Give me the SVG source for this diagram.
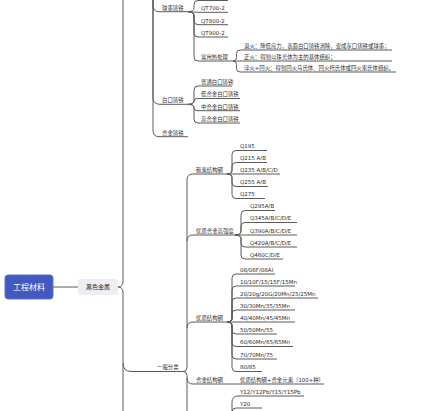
<svg xmlns="http://www.w3.org/2000/svg" width="442" height="411" viewBox="0 0 442 411">
<style>
.c{fill:none;stroke:#5a5a5a;stroke-width:1}
.u{fill:none;stroke:#5a5a5a;stroke-width:1}
.t{font-family:"DejaVu Sans","Noto Sans CJK SC",sans-serif;font-size:5.4px;fill:#2a2a2a}
.l{font-family:"DejaVu Sans","Noto Sans CJK SC",sans-serif;font-size:5.5px;fill:#2a2a2a}
</style>
<rect width="442" height="411" fill="#fff"/>
<g id="connectors">
<path class="c" d="M53 287H78"/>
<path class="c" d="M118 287Q123 287 123 281V0"/>
<path class="c" d="M118 287Q123 287 123 293V411"/>
<path class="c" d="M123 363Q123 371.5 131 371.5H152"/>
<path class="c" d="M153 0V5Q153 11.7 159 11.7"/>
<path class="c" d="M153 0V97.5Q153 104.3 160 104.3"/>
<path class="c" d="M153 0V130Q153 136.7 159 136.7"/>
<path class="c" d="M188 11.7Q194 11.7 194 7.7V4.5Q194 0.5 198 0.5H228"/>
<path class="c" d="M188 11.7C192 11.7 194 12.3 199 12.3"/>
<path class="c" d="M188 11.7Q194 11.7 194 15.7V20.7Q194 24.7 198 24.7H199"/>
<path class="c" d="M188 11.7Q194 11.7 194 15.7V33Q194 37 198 37H199"/>
<path class="c" d="M188 11.7Q194 11.7 194 15.7V57Q194 61 198 61H199"/>
<path class="c" d="M233 61Q236.5 61 236.5 57.5V53.5Q236.5 50 240 50"/>
<path class="c" d="M233 61H240"/>
<path class="c" d="M233 61Q236.5 61 236.5 64.5V68.5Q236.5 72 240 72"/>
<path class="c" d="M188 104.3Q194 104.3 194 100.3V90Q194 86 198 86H199"/>
<path class="c" d="M188 104.3Q194 104.3 194 101.4Q194 98.5 197 98.5H199"/>
<path class="c" d="M188 104.3Q194 104.3 194 107.5Q194 110.7 197 110.7H199"/>
<path class="c" d="M188 104.3Q194 104.3 194 108.3V119Q194 123 198 123H199"/>
<path class="c" d="M183 371.5Q187 371.5 187 367.5V180Q187 174 193 174"/>
<path class="c" d="M187 241Q187 235 193 235"/>
<path class="c" d="M187 328Q187 322 193 322"/>
<path class="c" d="M183 371.5Q187 371.5 187 375.5V411"/>
<path class="c" d="M187 378Q187 384 193 384"/>
<path class="c" d="M227 174Q232 174 232 170V154.5Q232 150.5 236 150.5H237"/>
<path class="c" d="M227 174Q232 174 232 170V166.5Q232 162.5 236 162.5H237"/>
<path class="c" d="M227 174H237"/>
<path class="c" d="M227 174Q232 174 232 178V182.5Q232 186.5 236 186.5H237"/>
<path class="c" d="M227 174Q232 174 232 178V194.5Q232 198.5 236 198.5H237"/>
<path class="c" d="M235 235Q241 235 241 231V214.5Q241 210.5 245 210.5H246"/>
<path class="c" d="M235 235Q241 235 241 231V226.5Q241 222.5 245 222.5H246"/>
<path class="c" d="M235 235H246"/>
<path class="c" d="M235 235Q241 235 241 239V243Q241 247 245 247H246"/>
<path class="c" d="M235 235Q241 235 241 239V255Q241 259 245 259H246"/>
<path class="c" d="M227 322Q232 322 232 318V278Q232 274 236 274H237"/>
<path class="c" d="M227 322Q232 322 232 318V290Q232 286 236 286H237"/>
<path class="c" d="M227 322Q232 322 232 318V302Q232 298 236 298H237"/>
<path class="c" d="M227 322Q232 322 232 318V314Q232 310 236 310H237"/>
<path class="c" d="M227 322H237"/>
<path class="c" d="M227 322Q232 322 232 326V330Q232 334 236 334H237"/>
<path class="c" d="M227 322Q232 322 232 326V342.5Q232 346.5 236 346.5H237"/>
<path class="c" d="M227 322Q232 322 232 326V355Q232 359 236 359H237"/>
<path class="c" d="M227 322Q232 322 232 326V367.5Q232 371.5 236 371.5H237"/>
<path class="c" d="M225 384H237"/>
<path class="c" d="M232 420V402Q232 396 238 396"/>
<path class="c" d="M232 420V412Q232 408 236 408H238"/>
</g>
<g id="root">
<rect x="5" y="275" width="48" height="24" rx="3" fill="#4259BF" stroke="#5B70CF" stroke-width="1"/>
<text x="29" y="290" text-anchor="middle" font-family="'Noto Sans CJK SC',sans-serif" font-size="8" fill="#fff">工程材料</text>
</g>
<g id="n-heise">
<rect x="78" y="279" width="40" height="16" rx="2" fill="#EDEDF5"/>
<text x="98" y="289.3" text-anchor="middle" font-family="'Noto Sans CJK SC',sans-serif" font-size="6" fill="#333">黑色金属</text>
</g>
<g id="n-qiumo"><path class="u" d="M159 11.7H188"/><text class="t" x="162" y="9.5">球墨铸铁</text></g>
<g id="n-qt700"><path class="u" d="M199 12.3H228"/><text class="l" x="201" y="10.1">QT700-2</text></g>
<g id="n-qt800"><path class="u" d="M199 24.7H228"/><text class="l" x="201" y="22.5">QT800-2</text></g>
<g id="n-qt900"><path class="u" d="M199 37H228"/><text class="l" x="201" y="34.8">QT900-2</text></g>
<g id="n-rechuli"><path class="u" d="M199 61H233"/><text class="t" x="201" y="58.8">常用热处理</text></g>
<g id="n-tuihuo"><path class="u" d="M240 50H392"/><text class="t" x="244" y="47.8">退火：降低应力，表面白口铸铁消除，变成灰口铸铁或球墨；</text></g>
<g id="n-zhenghuo"><path class="u" d="M240 61H392"/><text class="t" x="244" y="58.8">正火：得到以珠光体为主的基体组织；</text></g>
<g id="n-cuihuo"><path class="u" d="M240 72H396"/><text class="t" x="244" y="69.8">淬火+回火：得到回火马氏体、回火托氏体或回火索氏体组织。</text></g>
<g id="n-baikou"><path class="u" d="M160 104.3H188"/><text class="t" x="162" y="102.1">白口铸铁</text></g>
<g id="n-bk1"><path class="u" d="M199 86H232"/><text class="t" x="201" y="83.8">普通白口铸铁</text></g>
<g id="n-bk2"><path class="u" d="M199 98.5H240"/><text class="t" x="201" y="96.3">低合金白口铸铁</text></g>
<g id="n-bk3"><path class="u" d="M199 110.7H240"/><text class="t" x="201" y="108.5">中合金白口铸铁</text></g>
<g id="n-bk4"><path class="u" d="M199 123H240"/><text class="t" x="201" y="120.8">高合金白口铸铁</text></g>
<g id="n-hejin"><path class="u" d="M159 136.7H188"/><text class="t" x="162" y="134.5">合金铸铁</text></g>
<g id="n-yiban"><path class="u" d="M152 371.5H183"/><text class="t" x="157" y="369.3">一般分类</text></g>
<g id="n-tansu"><path class="u" d="M193 174H227"/><text class="t" x="196" y="171.8">碳素结构钢</text></g>
<g id="n-q195"><path class="u" d="M237 150.5H267"/><text class="l" x="240" y="148.3">Q195</text></g>
<g id="n-q215"><path class="u" d="M237 162.5H267"/><text class="l" x="240" y="160.3">Q215 A/B</text></g>
<g id="n-q235"><path class="u" d="M237 174H280"/><text class="l" x="240" y="171.8">Q235 A/B/C/D</text></g>
<g id="n-q255"><path class="u" d="M237 186.5H268"/><text class="l" x="240" y="184.3">Q255 A/B</text></g>
<g id="n-q275"><path class="u" d="M237 198.5H265"/><text class="l" x="240" y="196.3">Q275</text></g>
<g id="n-digao"><path class="u" d="M193 235H235"/><text class="t" x="196" y="232.8">优质合金高强度</text></g>
<g id="n-q295"><path class="u" d="M246 210.5H275"/><text class="l" x="250" y="208.3">Q295A/B</text></g>
<g id="n-q345"><path class="u" d="M246 222.5H297"/><text class="l" x="250" y="220.3">Q345A/B/C/D/E</text></g>
<g id="n-q390"><path class="u" d="M246 235H297"/><text class="l" x="250" y="232.8">Q390A/B/C/D/E</text></g>
<g id="n-q420"><path class="u" d="M246 247H297"/><text class="l" x="250" y="244.8">Q420A/B/C/D/E</text></g>
<g id="n-q460"><path class="u" d="M246 259H283"/><text class="l" x="250" y="256.8">Q460C/D/E</text></g>
<g id="n-youzhi"><path class="u" d="M193 322H227"/><text class="t" x="196" y="319.8">优质结构钢</text></g>
<g id="n-y08"><path class="u" d="M237 274H275"/><text class="l" x="240" y="271.8">08/08F/08Al</text></g>
<g id="n-y10"><path class="u" d="M237 286H295"/><text class="l" x="240" y="283.8">10/10F/15/15F/15Mn</text></g>
<g id="n-y20"><path class="u" d="M237 298H318"/><text class="l" x="240" y="295.8">20/20g/20G/20Mn/25/25Mn</text></g>
<g id="n-y30"><path class="u" d="M237 310H295"/><text class="l" x="240" y="307.8">30/30Mn/35/35Mn</text></g>
<g id="n-y40"><path class="u" d="M237 322H295"/><text class="l" x="240" y="319.8">40/40Mn/45/45Mn</text></g>
<g id="n-y50"><path class="u" d="M237 334H277"/><text class="l" x="240" y="331.8">50/50Mn/55</text></g>
<g id="n-y60"><path class="u" d="M237 346.5H293"/><text class="l" x="240" y="344.3">60/60Mn/65/65Mn</text></g>
<g id="n-y70"><path class="u" d="M237 359H277"/><text class="l" x="240" y="356.8">70/70Mn/75</text></g>
<g id="n-y80"><path class="u" d="M237 371.5H262"/><text class="l" x="240" y="369.3">80/85</text></g>
<g id="n-hejingang"><path class="u" d="M193 384H225"/><text class="t" x="196" y="381.8">合金结构钢</text></g>
<g id="n-hjys"><path class="u" d="M237 384H324"/><text class="t" x="240" y="381.8">优质结构钢+合金元素（100+种）</text></g>
<g id="n-y12"><path class="u" d="M238 396H304"/><text class="l" x="240" y="393.8">Y12/Y12Pb/Y15/Y15Pb</text></g>
<g id="n-yy20"><path class="u" d="M238 408H262"/><text class="l" x="240" y="405.8">Y20</text></g>
</svg>
